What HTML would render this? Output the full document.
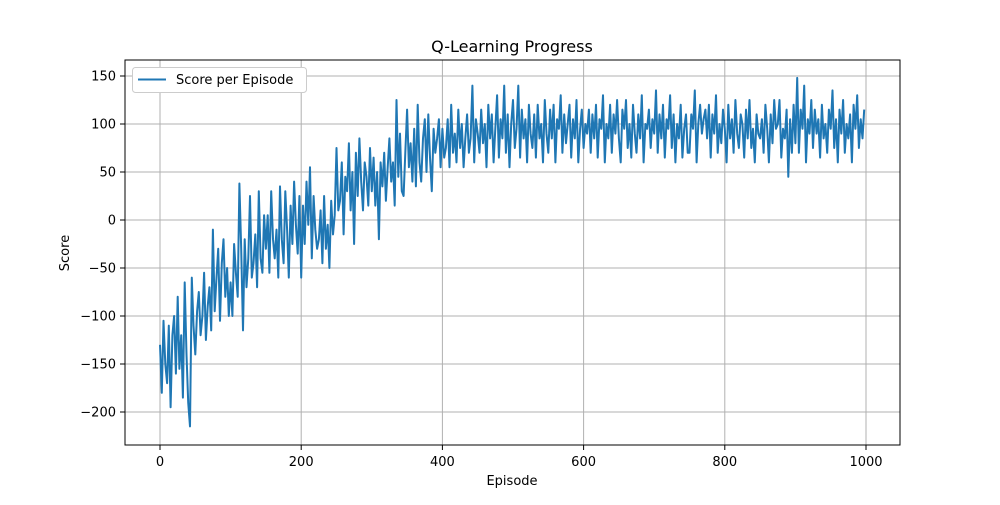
<!DOCTYPE html>
<html><head><meta charset="utf-8"><style>
body{margin:0;background:#fff;font-family:"Liberation Sans","DejaVu Sans",sans-serif}
svg text{font-family:"DejaVu Sans","Liberation Sans",sans-serif;fill:#000}
</style></head><body>
<svg id="chart" width="1000" height="500">
<rect x="0" y="0" width="1000" height="500" fill="#fff"/>
<g id="grid"></g><g id="ticks"></g>
<path id="line" fill="none" stroke="#1f77b4" stroke-width="2" stroke-linejoin="round"/>
<rect x="125" y="60" width="775" height="385" fill="none" stroke="#000" stroke-width="1"/>
<text x="512" y="52" font-size="16" text-anchor="middle">Q-Learning Progress</text>
<text x="512" y="485" font-size="13" text-anchor="middle">Episode</text>
<text x="69" y="253" font-size="13" text-anchor="middle" transform="rotate(-90 69 253)">Score</text>
<g>
<rect x="132.5" y="67.5" width="174" height="25" rx="3" fill="#fff" stroke="#ccc"/>
<line x1="138" y1="79.5" x2="166" y2="79.5" stroke="#1f77b4" stroke-width="2"/>
<text x="176" y="84" font-size="13">Score per Episode</text>
</g>
</svg>
<script>
const episodeStep = 2.5;
const scores = [
-130,-180,-105,-150,-170,-110,-195,-120,-100,-160,
-80,-155,-120,-185,-65,-140,-190,-215,-60,-110,
-140,-95,-75,-120,-100,-55,-125,-90,-70,-115,
-10,-95,-60,-30,-105,-45,-20,-80,-50,-100,
-65,-100,-25,-55,-80,38,-30,-115,-20,-70,
-40,25,-60,-45,-15,-70,30,-40,-55,5,
-30,5,-55,30,-20,-40,-10,-60,35,-20,
-45,30,-10,-60,15,-25,40,-5,-35,25,
-60,15,-25,40,-5,55,-40,25,-10,-30,
-20,10,-45,25,-30,-5,-50,20,-15,5,
75,10,20,60,-15,45,30,80,10,50,
-25,70,25,85,40,10,60,45,15,75,
30,65,15,50,-20,60,35,70,20,55,
85,40,60,15,125,45,90,30,25,70,
115,55,80,40,95,35,120,60,40,85,
105,50,110,65,30,95,70,85,105,55,
95,65,75,105,55,120,70,90,60,115,
75,100,55,85,110,70,85,140,60,105,
90,70,115,80,100,55,120,85,110,60,
95,130,65,105,85,140,70,110,55,100,
125,75,95,140,65,115,85,105,60,120,
90,75,110,65,120,85,100,60,125,90,
70,115,85,120,60,105,95,130,70,110,
80,100,120,65,105,85,125,60,95,115,
75,100,90,115,70,110,85,120,65,105,
95,130,60,100,85,120,70,110,90,125,
85,60,115,95,125,75,100,65,120,90,
70,110,85,130,60,100,95,115,75,105,
90,135,70,110,85,120,65,105,95,130,
75,110,60,100,85,120,65,95,110,70,
70,110,95,135,60,100,120,90,105,115,
85,120,65,110,90,130,70,100,80,115,
95,60,120,85,105,70,125,90,75,110,
100,65,115,85,125,75,95,60,110,90,
85,105,70,120,95,60,110,80,125,95,
100,125,65,95,85,115,45,105,70,120,
80,148,70,115,95,140,60,105,90,125,
75,115,90,105,65,120,85,100,70,115,
95,135,75,105,60,115,90,125,70,100,
85,110,60,120,95,130,75,105,85,115];
const xTicks = [0,200,400,600,800,1000];
const yTicks = [-200,-150,-100,-50,0,50,100,150];
const X = v => 160 + v*0.706;
const Y = v => 220 - v*0.96;
const ns = "http://www.w3.org/2000/svg";
const grid = document.getElementById('grid'), ticks = document.getElementById('ticks');
function mk(tag, attrs, parent){const e=document.createElementNS(ns,tag);for(const k in attrs)e.setAttribute(k,attrs[k]);parent.appendChild(e);return e;}
xTicks.forEach(t=>{
  const g=mk('line',{x1:X(t),x2:X(t),y1:60,y2:445,stroke:'#b0b0b0','stroke-width':1},grid);
  
  
  mk('line',{x1:X(t),x2:X(t),y1:445,y2:450,stroke:'#000'},ticks);
  const tx=mk('text',{x:X(t),y:466,'font-size':13,'text-anchor':'middle'},ticks);
  tx.textContent=t;
  
  
});
yTicks.forEach(t=>{
  const g=mk('line',{x1:125,x2:900,y1:Y(t),y2:Y(t),stroke:'#b0b0b0','stroke-width':1},grid);
  
  
  mk('line',{x1:120,x2:125,y1:Y(t),y2:Y(t),stroke:'#000'},ticks);
  const tx=mk('text',{x:116,y:Y(t)+4.5,'font-size':13,'text-anchor':'end'},ticks);
  tx.textContent=t<0?'\u2212'+(-t):t;
  
  
});
document.getElementById('line').setAttribute('d', scores.map((s,i)=>(i?'L':'M')+X(i*episodeStep).toFixed(1)+','+Y(s).toFixed(1)).join(''));
</script>
</body></html>
